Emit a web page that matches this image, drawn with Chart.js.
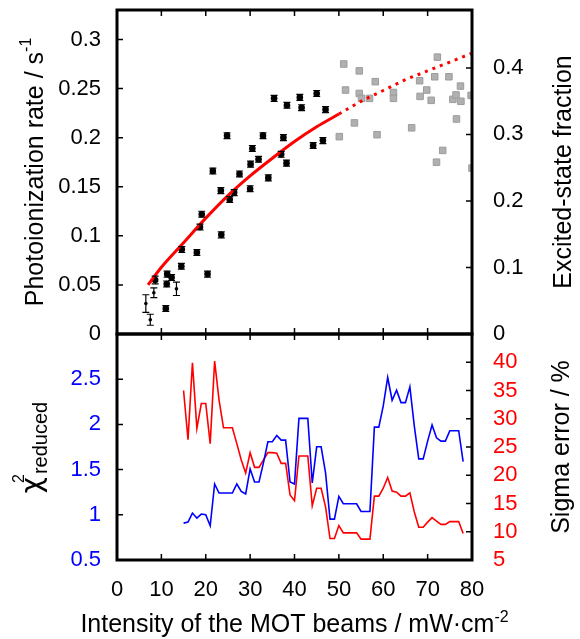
<!DOCTYPE html>
<html><head><meta charset="utf-8">
<script src="https://cdn.jsdelivr.net/npm/chart.js@4.4.1/dist/chart.umd.min.js"></script>
<style>
html,body{margin:0;padding:0;background:#fff;}
#wrap{position:relative;width:580px;height:639px;overflow:hidden;background:#fff;}
#cBot{position:absolute;left:0;top:330px;}
#cTop{position:absolute;left:0;top:0;}
</style></head><body>
<div id="wrap">
<canvas id="cBot" width="580" height="309"></canvas>
<canvas id="cTop" width="580" height="350"></canvas>
</div>
<script>
// ---------- data ----------
const rateX = [6.5,7.5,8.3,8.6,11.0,11.2,11.3,12.3,13.4,14.6,14.5,18.0,18.7,19.1,20.4,21.6,23.4,23.5,24.8,25.4,26.4,27.6,30.0,30.1,30.5,31.9,32.9,34.1,35.4,37.0,37.5,38.2,38.3,41.2,41.6,44.2,45.0,46.4,47.0];
const rateY = [0.031,0.0145,0.042,0.055,0.026,0.051,0.061,0.0575,0.046,0.086,0.069,0.083,0.109,0.122,0.061,0.166,0.146,0.101,0.202,0.137,0.144,0.163,0.148,0.173,0.189,0.178,0.202,0.159,0.240,0.183,0.200,0.174,0.233,0.241,0.2305,0.192,0.245,0.197,0.2285];
const rateErr = [0.009,0.0056,0.005,0.004,0.003,0.003,0.003,0.003,0.0068,0.003,0.003,0.003,0.003,0.003,0.003,0.003,0.003,0.003,0.003,0.003,0.003,0.003,0.003,0.003,0.003,0.003,0.003,0.003,0.003,0.003,0.003,0.003,0.003,0.003,0.003,0.003,0.003,0.003,0.003];
const grayX = [50.1,51.1,51.5,53.5,54.6,54.6,55.1,56.9,58.2,58.6,62.3,62.3,66.4,68.2,68.3,69.8,70.8,71.6,72.2,72.0,73.4,74.8,75.7,76.4,76.5,77.4,77.5,79.8,80];
const grayY = [0.201,0.275,0.2485,0.215,0.268,0.245,0.240,0.240,0.257,0.203,0.246,0.240,0.210,0.258,0.242,0.2485,0.238,0.262,0.282,0.175,0.187,0.262,0.239,0.2435,0.219,0.2525,0.237,0.243,0.169];
const fitX = [7,10,15,20,25,30,35,40,45,50];
const fitY = [0.05,0.068,0.093,0.118,0.141,0.161,0.179,0.196,0.211,0.224];
const extX = [50,55,60,65,70,75,80];
const extY = [0.224,0.237,0.248,0.259,0.268,0.277,0.286];

const statX = [15,16,17,18,19,20,21,22,23,24,25,26,27,28,29,30,31,32,33,34,35,36,37,38,39,40,41,42,43,44,45,46,47,48,49,50,51,52,53,54,55,56,57,58,59,60,61,62,63,64,65,66,67,68,69,70,71,72,73,74,75,76,77,78];
const chiY = [0.908,0.919,1.019,0.963,1.008,1.0,0.878,1.341,1.241,1.241,1.241,1.241,1.341,1.259,1.23,1.508,1.363,1.363,1.574,1.808,1.808,1.878,1.826,1.826,1.363,1.341,2.067,2.067,2.067,1.352,1.752,1.752,1.463,0.952,0.952,1.203,1.122,1.122,1.122,1.122,1.037,1.037,1.037,1.97,1.97,2.204,2.519,2.267,2.378,2.241,2.241,2.415,1.981,1.619,1.619,1.815,1.993,1.852,1.815,1.815,1.93,1.93,1.93,1.589];
const sigmaY = [35.0,26.3,39.9,28.3,32.7,32.7,25.6,40.2,33.3,28.4,28.4,28.4,25.6,22.7,20.4,24.0,21.4,21.4,22.7,24.0,24.0,23.9,22.1,22.1,16.5,15.5,23.4,23.4,23.4,14.6,17.7,17.7,14.4,8.8,8.8,11.1,9.8,9.8,9.8,9.8,8.7,8.7,8.7,16.3,16.3,17.7,19.6,17.2,17.0,16.3,16.3,16.9,13.5,10.8,10.8,11.7,12.5,11.9,11.3,11.3,11.8,11.8,11.8,9.7];

const xTicks = [0,10,20,30,40,50,60,70,80];
const xTickLabels = ['0','10','20','30','40','50','60','70','80'];
const rateTicks = [0,0.05,0.1,0.15,0.2,0.25,0.3];
const rateTickLabels = ['0','0.05','0.1','0.15','0.2','0.25','0.3'];
const fracTicks = [0,0.1,0.2,0.3,0.4];
const fracTickLabels = ['0','0.1','0.2','0.3','0.4'];
const chiTicks = [0.5,1,1.5,2,2.5];
const chiTickLabels = ['0.5','1','1.5','2','2.5'];
const sigmaTicks = [5,10,15,20,25,30,35,40];
const sigmaTickLabels = ['5','10','15','20','25','30','35','40'];

const titleRate = 'Photoionization rate / s';
const titleRateSup = '-1';
const titleFrac = 'Excited-state fraction';
const titleChi = 'χ';
const titleChiSup = '2';
const titleChiSub = 'reduced';
const titleSigma = 'Sigma error / %';
const titleX = 'Intensity of the MOT beams / mW·cm';
const titleXSup = '-2';

// ---------- helpers ----------
const FONT = '"Liberation Sans", Arial, Helvetica, sans-serif';
const GREEK = '"DejaVu Sans", "Noto Sans", sans-serif';
const pts = (xs, ys) => xs.map((x, i) => ({x, y: ys[i]}));

function drawRich(ctx, segs, x, y, rot) {
  ctx.save();
  ctx.translate(x, y);
  ctx.rotate(rot);
  let total = 0;
  segs.forEach(s => {
    ctx.font = s.size + 'px ' + (s.family || FONT);
    s.w = ctx.measureText(s.t).width;
    if (s.adv !== false) total += s.w + (s.dx || 0);
  });
  let cx = -total / 2;
  ctx.textAlign = 'left';
  ctx.textBaseline = 'alphabetic';
  segs.forEach(s => {
    ctx.font = s.size + 'px ' + (s.family || FONT);
    ctx.fillStyle = s.color || '#000';
    ctx.fillText(s.t, cx + (s.dx || 0), s.dy || 0);
    if (s.adv !== false) cx += s.w + (s.dx || 0);
  });
  ctx.restore();
}

function makeFrame(leftId, leftTicks, rightId, rightTicks) {
  return {
    id: 'frame',
    afterDraw(chart) {
      const {ctx, chartArea: a, scales} = chart;
      const L = 6;
      ctx.save();
      ctx.strokeStyle = '#000';
      ctx.lineWidth = 1.5;
      ctx.beginPath();
      xTicks.forEach(v => {
        const px = scales.x.getPixelForValue(v);
        ctx.moveTo(px, a.bottom); ctx.lineTo(px, a.bottom - L);
        ctx.moveTo(px, a.top); ctx.lineTo(px, a.top + L);
      });
      leftTicks.forEach(v => {
        const py = scales[leftId].getPixelForValue(v);
        ctx.moveTo(a.left, py); ctx.lineTo(a.left + L, py);
      });
      rightTicks.forEach(v => {
        const py = scales[rightId].getPixelForValue(v);
        ctx.moveTo(a.right, py); ctx.lineTo(a.right - L, py);
      });
      ctx.stroke();
      ctx.lineWidth = 3;
      ctx.strokeRect(a.left, a.top, a.right - a.left, a.bottom - a.top);
      ctx.restore();
    }
  };
}

const errorBars = {
  id: 'errorBars',
  afterDatasetsDraw(chart) {
    const {ctx, scales: {x, y}} = chart;
    ctx.save();
    ctx.strokeStyle = '#000';
    ctx.lineWidth = 1.2;
    ctx.beginPath();
    rateX.forEach((v, i) => {
      const px = x.getPixelForValue(v);
      const p1 = y.getPixelForValue(rateY[i] - rateErr[i]);
      const p2 = y.getPixelForValue(rateY[i] + rateErr[i]);
      ctx.moveTo(px, p1); ctx.lineTo(px, p2);
      ctx.moveTo(px - 3.5, p1); ctx.lineTo(px + 3.5, p1);
      ctx.moveTo(px - 3.5, p2); ctx.lineTo(px + 3.5, p2);
    });
    ctx.stroke();
    ctx.restore();
  }
};

function yAxis(pos, min, max, ticks, labels, color, width, pad) {
  return {
    type: 'linear', position: pos, min, max,
    grid: {display: false, drawTicks: false},
    border: {display: false},
    afterBuildTicks: s => { s.ticks = ticks.map(v => ({value: v})); },
    afterFit: s => { s.width = width; s.paddingTop = 0; s.paddingBottom = 0; },
    ticks: {
      color, padding: pad, font: {family: FONT, size: 22},
      callback: (v, i) => labels[i]
    }
  };
}

// ---------- top panel ----------
new Chart(document.getElementById('cTop'), {
  type: 'scatter',
  data: {
    datasets: [
      {label: 'fit', type: 'line', data: pts(fitX, fitY), borderColor: '#ff0000', borderWidth: 3,
        pointRadius: 0, cubicInterpolationMode: 'monotone', fill: false, yAxisID: 'y'},
      {label: 'fit extrapolation', type: 'line', data: pts(extX, extY), borderColor: '#ff0000', borderWidth: 3,
        borderDash: [3, 5], pointRadius: 0, cubicInterpolationMode: 'monotone', fill: false, yAxisID: 'y'},
      {label: 'rate', data: pts(rateX, rateY), pointStyle: 'circle',
        pointRadius: c => (rateErr[c.dataIndex] > 0.0045 ? 1.8 : 3.3),
        backgroundColor: '#000', borderColor: '#000', borderWidth: 0, yAxisID: 'y'},
      {label: 'rate (excluded)', data: pts(grayX, grayY), pointStyle: 'rect', pointRadius: 4.6,
        backgroundColor: '#b0b0b0', borderColor: '#9c9c9c', borderWidth: 1, yAxisID: 'y'}
    ]
  },
  options: {
    responsive: false, animation: false, events: [],
    layout: {padding: {top: 10, bottom: 16, left: 0, right: 0}},
    plugins: {legend: {display: false}, tooltip: {enabled: false}},
    scales: {
      x: {type: 'linear', min: 0, max: 80, display: false},
      y: yAxis('left', 0, 0.33, rateTicks, rateTickLabels, '#000', 117, 16),
      y2: yAxis('right', 0, 0.487, fracTicks, fracTickLabels, '#000', 108, 21)
    }
  },
  plugins: [errorBars, makeFrame('y', rateTicks, 'y2', fracTicks), {
    id: 'titlesTop',
    afterDraw(chart) {
      const ctx = chart.ctx;
      drawRich(ctx, [{t: titleRate, size: 25}, {t: titleRateSup, size: 16, dy: -12}], 43, 172, -Math.PI / 2);
      drawRich(ctx, [{t: titleFrac, size: 25}], 571, 172, -Math.PI / 2);
    }
  }]
});

// ---------- bottom panel ----------
new Chart(document.getElementById('cBot'), {
  type: 'line',
  data: {
    datasets: [
      {label: 'chi2 reduced', data: pts(statX, chiY), borderColor: '#0000ff', borderWidth: 1.6,
        pointRadius: 0, tension: 0, fill: false, yAxisID: 'y'},
      {label: 'sigma error', data: pts(statX, sigmaY), borderColor: '#ff0000', borderWidth: 1.6,
        pointRadius: 0, tension: 0, fill: false, yAxisID: 'y2'}
    ]
  },
  options: {
    responsive: false, animation: false, events: [],
    layout: {padding: {top: 4, bottom: 0, left: 0, right: 0}},
    plugins: {legend: {display: false}, tooltip: {enabled: false}},
    scales: {
      x: {
        type: 'linear', min: 0, max: 80,
        grid: {display: false, drawTicks: false}, border: {display: false},
        afterBuildTicks: s => { s.ticks = xTicks.map(v => ({value: v})); },
        afterFit: s => { s.height = 79; s.paddingLeft = 0; s.paddingRight = 0; },
        ticks: {color: '#000', padding: 17, maxRotation: 0, font: {family: FONT, size: 22},
          callback: (v, i) => xTickLabels[i]}
      },
      y: yAxis('left', 0.5, 3.0, chiTicks, chiTickLabels, '#0000ff', 117, 16),
      y2: yAxis('right', 5, 45, sigmaTicks, sigmaTickLabels, '#ff0000', 108, 21)
    }
  },
  plugins: [makeFrame('y', chiTicks, 'y2', sigmaTicks), {
    id: 'titlesBottom',
    afterDraw(chart) {
      const ctx = chart.ctx;
      drawRich(ctx, [
        {t: titleChi, size: 28, family: GREEK},
        {t: titleChiSup, size: 16, dy: -17, dx: -6, adv: false},
        {t: titleChiSub, size: 20, dy: 6, dx: 3}
      ], 41, 117.5, -Math.PI / 2);
      drawRich(ctx, [{t: titleSigma, size: 25}], 569, 117, -Math.PI / 2);
      drawRich(ctx, [{t: titleX, size: 25}, {t: titleXSup, size: 16, dy: -10}], 294.5, 302, 0);
    }
  }]
});
</script>
</body></html>
